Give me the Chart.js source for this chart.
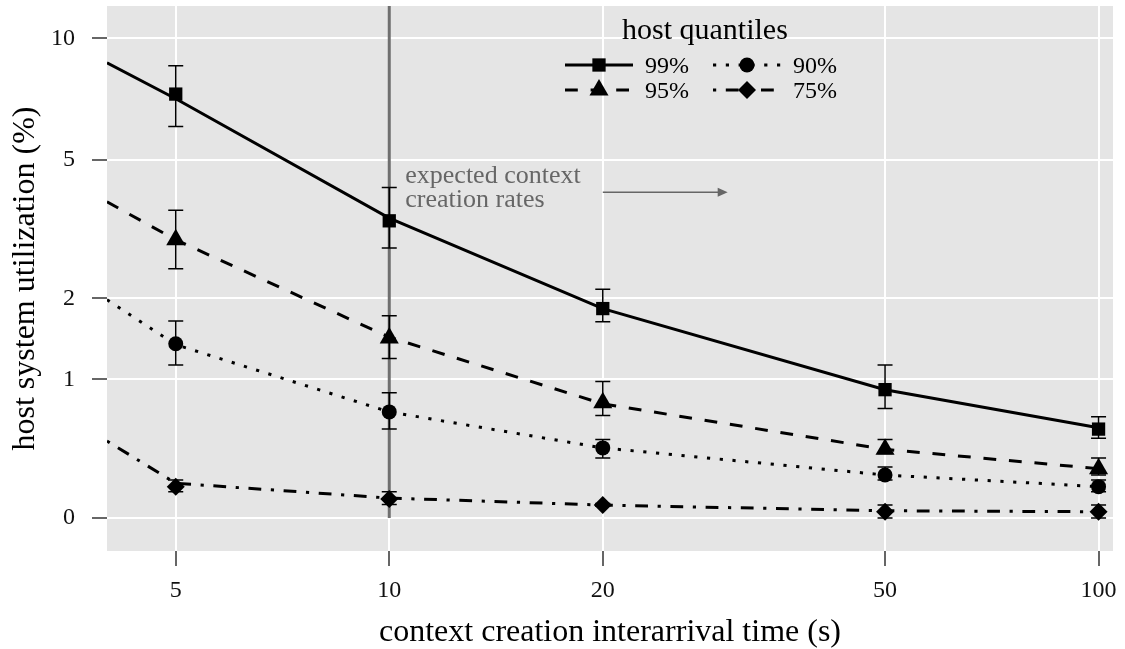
<!DOCTYPE html>
<html>
<head>
<meta charset="utf-8">
<title>Host system utilization vs. context creation interarrival time</title>
<script src="https://cdn.jsdelivr.net/npm/chart.js@4.4.1/dist/chart.umd.min.js"></script>
<style>
  html, body { margin: 0; padding: 0; background: #ffffff; }
  canvas { display: block; }
</style>
</head>
<body>
<canvas id="chart" width="1125" height="649"></canvas>
<script>
// ---- data -------------------------------------------------------------
// interarrival times (s) at which utilization was measured
const intervals = [5, 10, 20, 50, 100];
// interarrival times at which the fitted curves are evaluated
const fitIntervals = [4, 5, 10, 20, 50, 100];

// measured host system utilization (%) per host quantile, with interval bounds
const util99 = [7.33, 3.42, 1.85, 0.90, 0.56];
const low99  = [6.08, 2.86, 1.67, 0.73, 0.49];
const high99 = [8.60, 4.22, 2.14, 1.15, 0.66];

const util95 = [3.02, 1.46, 0.78, 0.41, 0.28];
const low95  = [2.48, 1.22, 0.67, 0.38, 0.24];
const high95 = [3.66, 1.75, 0.98, 0.48, 0.35];

const util90 = [1.39, 0.70, 0.42, 0.24, 0.17];
const low90  = [1.15, 0.56, 0.35, 0.21, 0.14];
const high90 = [1.68, 0.87, 0.48, 0.29, 0.21];

const util75 = [0.17, 0.10, 0.067, 0.032, 0.032];
const low75  = [0.14, 0.07, 0.060, 0.000, 0.000];
const high75 = [0.21, 0.14, 0.075, 0.067, 0.067];

// fitted utilization curves (%)
const fit99 = [8.74, 7.14, 3.48, 1.85, 0.90, 0.57];
const fit95 = [3.86, 3.02, 1.47, 0.77, 0.41, 0.28];
const fit90 = [1.98, 1.38, 0.70, 0.42, 0.24, 0.17];
const fit75 = [0.47, 0.19, 0.105, 0.067, 0.037, 0.032];

// axes
const xTicks = [5, 10, 20, 50, 100];
const yTicks = [0, 1, 2, 5, 10];
const yTickLabels = ['0', '1', '2', '5', '10'];
const xRange = [4, 104.8];
const yRange = [-0.152, 11.94];

// expected context creation rates start at this interarrival time (s)
const expectedFrom = 10;
const arrowSpan = [20, 30];
const arrowLevel = 4.1;

// ---- styling --------------------------------------------------------------
const FONT = "'Liberation Serif', 'Times New Roman', serif";
const INK = '#000000';
const PANEL = '#e5e5e5';
const NOTE = '#666666';

// utilization axis uses a log(1 + y) transform
const tr = v => Math.log1p(v);

const series = [
  { label: '99%', values: util99, low: low99, high: high99, fit: fit99, style: 'rect',     radius: 9.4, dash: [] },
  { label: '95%', values: util95, low: low95, high: high95, fit: fit95, style: 'triangle', radius: 11,  dash: [12.8, 12.8] },
  { label: '90%', values: util90, low: low90, high: high90, fit: fit90, style: 'circle',   radius: 7.5, dash: [3.2, 9.6] },
  { label: '75%', values: util75, low: low75, high: high75, fit: fit75, style: 'rectRot',  radius: 9,   dash: [3.2, 9.6, 12.8, 9.6] }
];

// ---- datasets ---------------------------------------------------------------
const datasets = [];
datasets.push({
  label: 'expected rates',
  data: [{ x: expectedFrom, y: tr(0) }, { x: expectedFrom, y: tr(yRange[1] * 2) }],
  borderColor: '#6f6f6f',
  borderWidth: 3,
  pointRadius: 0,
  order: 10,
  clip: 0
});
series.forEach(s => {
  datasets.push({
    label: s.label + ' fit',
    data: fitIntervals.map((x, i) => ({ x, y: tr(s.fit[i]) })),
    borderColor: INK,
    borderWidth: 3,
    borderDash: s.dash,
    borderCapStyle: 'butt',
    pointRadius: 0,
    order: 5,
    clip: 0
  });
});
series.forEach(s => {
  datasets.push({
    label: s.label,
    data: intervals.map((x, i) => ({ x, y: tr(s.values[i]) })),
    showLine: false,
    pointStyle: s.style,
    pointRadius: s.radius,
    pointBackgroundColor: INK,
    pointBorderWidth: 0,
    order: 1,
    clip: 0
  });
});

// ---- plugins ----------------------------------------------------------------
const panelBackground = {
  id: 'panelBackground',
  beforeDraw(chart) {
    const { ctx, chartArea: a } = chart;
    ctx.save();
    ctx.fillStyle = PANEL;
    ctx.fillRect(a.left, a.top, a.right - a.left, a.bottom - a.top);
    ctx.restore();
  }
};

const errorBars = {
  id: 'errorBars',
  afterDatasetsDraw(chart) {
    const { ctx, chartArea: a, scales: { x, y } } = chart;
    ctx.save();
    ctx.beginPath();
    ctx.rect(a.left, a.top, a.right - a.left, a.bottom - a.top);
    ctx.clip();
    ctx.strokeStyle = INK;
    ctx.lineWidth = 1.5;
    const cap = 7.5;
    series.forEach(s => {
      intervals.forEach((iv, i) => {
        const px = x.getPixelForValue(iv);
        const yl = y.getPixelForValue(tr(s.low[i]));
        const yh = y.getPixelForValue(tr(s.high[i]));
        ctx.beginPath();
        ctx.moveTo(px, yl); ctx.lineTo(px, yh);
        ctx.moveTo(px - cap, yl); ctx.lineTo(px + cap, yl);
        ctx.moveTo(px - cap, yh); ctx.lineTo(px + cap, yh);
        ctx.stroke();
      });
    });
    ctx.restore();
  }
};

const rateNote = {
  id: 'rateNote',
  afterDatasetsDraw(chart) {
    const { ctx, scales: { x, y } } = chart;
    const yMid = y.getPixelForValue(tr(arrowLevel));
    const x0 = x.getPixelForValue(arrowSpan[0]);
    const x1 = x.getPixelForValue(arrowSpan[1]);
    const tx = x.getPixelForValue(expectedFrom) + 16;
    ctx.save();
    ctx.fillStyle = NOTE;
    ctx.strokeStyle = NOTE;
    ctx.font = '26px ' + FONT;
    ctx.textAlign = 'left';
    ctx.textBaseline = 'alphabetic';
    ctx.fillText('expected context', tx, yMid - 9);
    ctx.fillText('creation rates', tx, yMid + 15);
    ctx.lineWidth = 1.6;
    ctx.beginPath();
    ctx.moveTo(x0, yMid);
    ctx.lineTo(x1 - 8, yMid);
    ctx.stroke();
    ctx.beginPath();
    ctx.moveTo(x1, yMid);
    ctx.lineTo(x1 - 10, yMid - 4.5);
    ctx.lineTo(x1 - 10, yMid + 4.5);
    ctx.closePath();
    ctx.fill();
    ctx.restore();
  }
};

const quantileLegend = {
  id: 'quantileLegend',
  afterDraw(chart) {
    const { ctx } = chart;
    const keyWidth = 68;
    const columns = [565, 713];
    const rows = [65, 90];
    // entries fill columns first: 99%, 95% | 90%, 75%
    const slots = [[0, 0], [0, 1], [1, 0], [1, 1]];
    ctx.save();
    ctx.fillStyle = INK;
    ctx.font = '30px ' + FONT;
    ctx.textAlign = 'left';
    ctx.textBaseline = 'alphabetic';
    ctx.fillText('host quantiles', 622, 39);
    series.forEach((s, i) => {
      const [c, r] = slots[i];
      const x0 = columns[c];
      const yc = rows[r];
      ctx.save();
      ctx.strokeStyle = INK;
      ctx.lineWidth = 3;
      ctx.lineCap = 'butt';
      ctx.setLineDash(s.dash);
      ctx.beginPath();
      ctx.moveTo(x0, yc);
      ctx.lineTo(x0 + keyWidth, yc);
      ctx.stroke();
      ctx.restore();
      ctx.fillStyle = INK;
      Chart.helpers.drawPoint(ctx, { pointStyle: s.style, radius: s.radius, borderWidth: 0, rotation: 0 }, x0 + keyWidth / 2, yc);
      ctx.fillStyle = INK;
      ctx.font = '24px ' + FONT;
      ctx.fillText(s.label, x0 + keyWidth + 12, yc + 8);
    });
    ctx.restore();
  }
};

// fixed outer sizes for the axes so the plotting panel keeps its place
const fixBox = (size) => s => {
  if (s.isHorizontal()) s.height = size; else s.width = size;
  s.paddingTop = 0; s.paddingBottom = 0; s.paddingLeft = 0; s.paddingRight = 0;
};

// ---- chart --------------------------------------------------------------
new Chart(document.getElementById('chart'), {
  type: 'line',
  data: { datasets },
  plugins: [panelBackground, errorBars, rateNote, quantileLegend],
  options: {
    responsive: false,
    animation: false,
    devicePixelRatio: 1,
    layout: { autoPadding: false, padding: { top: 6, right: 12, left: 0, bottom: 0 } },
    plugins: {
      legend: { display: false },
      tooltip: { enabled: false }
    },
    scales: {
      x: {
        type: 'logarithmic',
        position: 'bottom',
        min: xRange[0],
        max: xRange[1],
        afterBuildTicks: s => { s.ticks = xTicks.map(v => ({ value: v })); },
        afterFit: fixBox(98),
        ticks: {
          autoSkip: false,
          maxRotation: 0,
          padding: 10,
          color: '#111111',
          font: { family: FONT, size: 24 },
          callback: v => String(v)
        },
        grid: { color: '#ffffff', lineWidth: 2, drawTicks: true, tickLength: 15, tickColor: '#333333', tickWidth: 1.5 },
        border: { display: false },
        title: {
          display: true,
          text: 'context creation interarrival time (s)',
          color: '#000000',
          font: { family: FONT, size: 32, lineHeight: 1 },
          padding: { top: 0, bottom: 0 }
        }
      },
      y: {
        type: 'linear',
        min: tr(yRange[0]),
        max: tr(yRange[1]),
        afterBuildTicks: s => { s.ticks = yTicks.map(v => ({ value: tr(v) })); },
        afterFit: fixBox(107),
        ticks: {
          autoSkip: false,
          padding: 17,
          color: '#111111',
          font: { family: FONT, size: 24 },
          callback: (v, i) => yTickLabels[i]
        },
        grid: { color: '#ffffff', lineWidth: 2, drawTicks: true, tickLength: 15, tickColor: '#333333', tickWidth: 1.5 },
        border: { display: false },
        title: {
          display: true,
          text: 'host system utilization (%)',
          color: '#000000',
          font: { family: FONT, size: 32, lineHeight: 1 },
          padding: { top: 10, bottom: 0 }
        }
      }
    }
  }
});
</script>
</body>
</html>
